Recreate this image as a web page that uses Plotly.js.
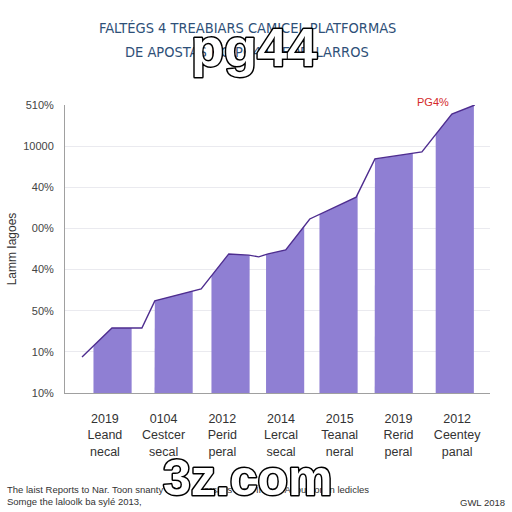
<!DOCTYPE html>
<html>
<head>
<meta charset="utf-8">
<script src="https://cdn.plot.ly/plotly-3.0.1.min.js"></script>
<style>
html,body{margin:0;padding:0;background:#fff;}
#chart{width:512px;height:512px;}
.annotation[data-index="5"] text, .annotation[data-index="6"] text {
  stroke:#000; stroke-width:3px; paint-order:stroke fill; stroke-linejoin:round;
}
</style>
</head>
<body>
<div id="chart"></div>
<script>
// ---- data ----
const titleLine1 = 'FALTÉGS 4 TREABIARS CAMICEL PLATFORMAS';
const titleLine2 = 'DE APOSTAS NO PG44 PEDELLARROS';
const yearLabels = ['2019', '0104', '2012', '2014', '2015', '2019', '2012'];
const nameLine1 = ['Leand', 'Cestcer', 'Perid', 'Lercal', 'Teanal', 'Rerid', 'Ceentey'];
const nameLine2 = ['necal', 'secal', 'peral', 'secal', 'neral', 'peral', 'panal'];
const barPositions = [0.13, 1.17, 2.14, 3.07, 3.98, 4.92, 5.96];
const lineX = [-0.39, 0.12, 0.63, 0.85, 1.64, 2.11, 2.45, 2.62, 2.78, 3.08, 3.49, 4.28, 4.60, 5.40, 5.91, 6.30];
const lineY = [0.875, 1.58, 1.58, 2.24, 2.53, 3.38, 3.35, 3.31, 3.38, 3.48, 4.23, 4.76, 5.69, 5.86, 6.78, 7.0];
const yTickValues = [0, 1, 2, 3, 4, 5, 6, 7];
const yTickText = ['10%', '10%', '50%', '40%', '00%', '40%', '10000', '510%'];
const peakLabel = 'PG4%';

// ---- helpers ----
function interp(x) {
  for (let i = 0; i < lineX.length - 1; i++) {
    if (x >= lineX[i] && x <= lineX[i + 1]) {
      const t = (x - lineX[i]) / (lineX[i + 1] - lineX[i]);
      return lineY[i] + t * (lineY[i + 1] - lineY[i]);
    }
  }
  return x < lineX[0] ? lineY[0] : lineY[lineY.length - 1];
}

const barWidth = 0.65;
const barColor = '#8f7fd3';
const traces = [];
barPositions.forEach((c) => {
  const l = c - barWidth / 2, r = c + barWidth / 2;
  const xs = [l, l], ys = [0, interp(l)];
  lineX.forEach((x, i) => { if (x > l && x < r) { xs.push(x); ys.push(lineY[i]); } });
  xs.push(r, r); ys.push(interp(r), 0);
  traces.push({
    type: 'scatter', mode: 'lines', x: xs, y: ys, fill: 'toself',
    fillcolor: barColor, line: {width: 0, color: barColor}, hoverinfo: 'skip', showlegend: false
  });
});
traces.push({
  type: 'scatter', mode: 'lines', x: lineX, y: lineY,
  line: {color: '#4e2d8f', width: 1.4}, showlegend: false, cliponaxis: false
});

const L = 65, R = 490, T = 105, B = 393;
const px = (x) => (x - L) / (R - L);
const py = (y) => (B - y) / (B - T);
const titleFont = {family: 'DejaVu Sans Condensed, Liberation Sans Narrow, sans-serif', size: 14.5, color: '#2e5078'};

const layout = {
  width: 512, height: 512,
  margin: {l: L, r: 512 - R, t: T, b: 512 - B},
  paper_bgcolor: '#fff', plot_bgcolor: '#fff',
  font: {family: 'Liberation Sans, Arial, sans-serif', color: '#333'},
  xaxis: {
    range: [-0.68, 6.56], tickmode: 'array', tickvals: yearLabels.map((_, i) => i),
    ticktext: yearLabels.map((y, i) => y + '<br>' + nameLine1[i] + '<br>' + nameLine2[i]),
    showgrid: false, zeroline: false, showline: true, linecolor: '#a0a0a0', linewidth: 1,
    ticks: '', ticklabelstandoff: 14, tickfont: {size: 12.5, color: '#333'}, fixedrange: true
  },
  yaxis: {
    range: [0, 7], tickmode: 'array', tickvals: yTickValues, ticktext: yTickText,
    showgrid: true, gridcolor: '#eaeaef', zeroline: false, showline: true, linecolor: '#a0a0a0',
    ticks: '', ticklabelstandoff: 8, tickfont: {size: 11, color: '#444'},
    title: {text: 'Lamm Iagoes', font: {size: 12, color: '#333'}, standoff: 4}, fixedrange: true
  },
  annotations: [
    {xref: 'paper', yref: 'paper', x: px(247), y: py(28), xanchor: 'center', yanchor: 'middle',
     text: titleLine1, showarrow: false, font: titleFont},
    {xref: 'paper', yref: 'paper', x: px(247), y: py(52), xanchor: 'center', yanchor: 'middle',
     text: titleLine2, showarrow: false, font: titleFont},
    {xref: 'paper', yref: 'paper', x: px(433), y: py(102), text: peakLabel, showarrow: false,
     font: {size: 11, color: '#d42a2a'}, xanchor: 'center', yanchor: 'middle'},
    {xref: 'paper', yref: 'paper', x: px(5), y: py(495), xanchor: 'left', yanchor: 'middle', align: 'left',
     text: 'The laist Reports to Nar. Toon snanty 2015  Soorsaes Sosl Inores Asounton in ledicles<br>Somge the laloolk ba sylé 2013,',
     showarrow: false, font: {size: 9.5, color: '#333'}},
    {xref: 'paper', yref: 'paper', x: px(507), y: py(502), xanchor: 'right', yanchor: 'middle',
     text: 'GWL 2018', showarrow: false, font: {size: 9.5, color: '#333'}},
    {xref: 'paper', yref: 'paper', x: px(254), y: py(47), xanchor: 'center', yanchor: 'middle',
     text: 'pg44', showarrow: false, font: {size: 54, color: '#ffffff', weight: 'bold', family: 'Liberation Sans, Arial, sans-serif'}},
    {xref: 'paper', yref: 'paper', x: px(248), y: py(478), xanchor: 'center', yanchor: 'middle',
     text: '3z.com', showarrow: false, font: {size: 50, color: '#ffffff', weight: 'bold', family: 'Liberation Sans, Arial, sans-serif'}}
  ]
};

Plotly.newPlot('chart', traces, layout, {staticPlot: true});
</script>
</body>
</html>
